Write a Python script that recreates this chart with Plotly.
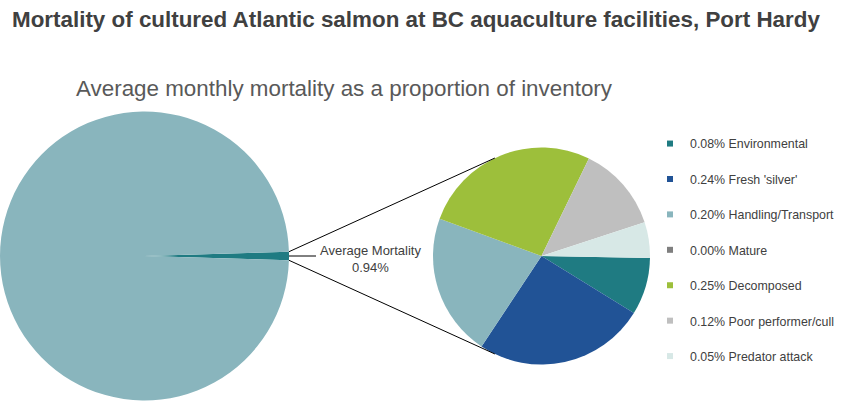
import math
import plotly.graph_objects as go

W, H = 849, 406
FONT = "Liberation Sans, Arial, sans-serif"

title_text = "Mortality of cultured Atlantic salmon at BC aquaculture facilities, Port Hardy"
subtitle_text = "Average monthly mortality as a proportion of inventory"

overview_labels = ["Average Mortality", "Surviving inventory"]
overview_values = [0.94, 99.06]
overview_colors = ["#1F7B82", "#89B5BD"]

cause_labels = ["Environmental", "Fresh 'silver'", "Handling/Transport", "Mature",
                "Decomposed", "Poor performer/cull", "Predator attack"]
cause_values = [0.08, 0.24, 0.20, 0.00, 0.25, 0.12, 0.05]
cause_colors = ["#1F7B82", "#215396", "#89B5BD", "#7F7F7F",
                "#9DBF3B", "#BFBFBF", "#D7E8E6"]

# pie geometry (pixels)
big_cx, big_cy, big_r = 144.5, 256, 144.5
sm_cx, sm_cy, sm_r = 541.5, 256, 108.5

def px_to_paper(x, y):
    return x / W, 1 - y / H

frac = overview_values[0] / sum(overview_values)
big_rot = 90 - frac * 360 / 2

fig = go.Figure()

fig.add_trace(go.Pie(
    labels=overview_labels, values=overview_values,
    marker=dict(colors=overview_colors, line=dict(width=0)),
    sort=False, direction="clockwise", rotation=big_rot,
    textinfo="none", hoverinfo="label+value", showlegend=False,
    domain=dict(x=[max(0, (big_cx - big_r) / W), (big_cx + big_r) / W],
                y=[1 - (big_cy + big_r) / H, 1 - (big_cy - big_r) / H]),
))

fig.add_trace(go.Pie(
    labels=cause_labels, values=cause_values,
    marker=dict(colors=cause_colors, line=dict(width=0)),
    sort=False, direction="clockwise", rotation=91,
    textinfo="none", hoverinfo="label+value", showlegend=False,
    domain=dict(x=[(sm_cx - sm_r) / W, (sm_cx + sm_r) / W],
                y=[1 - (sm_cy + sm_r) / H, 1 - (sm_cy - sm_r) / H]),
))

# legend entries
for i, (lab, val, col) in enumerate(zip(cause_labels, cause_values, cause_colors)):
    fig.add_trace(go.Scatter(
        x=[None], y=[None], mode="markers",
        marker=dict(symbol="square", size=6, color=col),
        name=f"{val:.2f}% {lab}", legendgroup=f"g{i}", showlegend=True,
        hoverinfo="skip",
    ))

# connector lines
shapes = []
a_up = math.radians(big_rot)
a_dn = math.radians(big_rot + frac * 360)
p_up = (big_cx + big_r * math.sin(a_up), big_cy - big_r * math.cos(a_up))
p_dn = (big_cx + big_r * math.sin(a_dn), big_cy - big_r * math.cos(a_dn))
d = sm_cx - (big_cx + big_r)
alpha = math.degrees(math.acos(sm_r / d))
t_up = math.radians(270 + alpha)
t_dn = math.radians(270 - alpha)
q_up = (sm_cx + sm_r * math.sin(t_up), sm_cy - sm_r * math.cos(t_up))
q_dn = (sm_cx + sm_r * math.sin(t_dn), sm_cy - sm_r * math.cos(t_dn))
for p, q in [(p_up, q_up), (p_dn, q_dn)]:
    x0, y0 = px_to_paper(*p)
    x1, y1 = px_to_paper(*q)
    shapes.append(dict(type="line", xref="paper", yref="paper",
                       x0=x0, y0=y0, x1=x1, y1=y1,
                       line=dict(color="#000000", width=1)))
# leader line for label
lx0, ly0 = px_to_paper(big_cx + big_r, big_cy)
lx1, ly1 = px_to_paper(316, big_cy)
shapes.append(dict(type="line", xref="paper", yref="paper",
                   x0=lx0, y0=ly0, x1=lx1, y1=ly1,
                   line=dict(color="#000000", width=1)))

annotations = [
    dict(text=f"<b>{title_text}</b>", x=10 / W, y=1 - 19 / H, xref="paper", yref="paper",
         xanchor="left", yanchor="middle", showarrow=False,
         font=dict(family=FONT, size=22.4, color="#404040")),
    dict(text=subtitle_text, x=74 / W, y=1 - 88.5 / H, xref="paper", yref="paper",
         xanchor="left", yanchor="middle", showarrow=False,
         font=dict(family=FONT, size=22.4, color="#595959")),
    dict(text=f"Average Mortality<br>{sum(cause_values):.2f}%",
         x=370.5 / W, y=1 - 259 / H, xref="paper", yref="paper",
         xanchor="center", yanchor="middle", showarrow=False,
         font=dict(family=FONT, size=13, color="#404040")),
]

fig.update_layout(
    width=W, height=H,
    margin=dict(l=0, r=0, t=0, b=0),
    paper_bgcolor="white", plot_bgcolor="white",
    xaxis=dict(visible=False), yaxis=dict(visible=False),
    shapes=shapes, annotations=annotations,
    legend=dict(x=650 / W, y=1 - 129 / H, xanchor="left", yanchor="top",
                font=dict(family=FONT, size=12.4, color="#404040"),
                tracegroupgap=16.3, itemwidth=30, bgcolor="rgba(0,0,0,0)"),
    font=dict(family=FONT),
)

fig.write_html("out.html", config={"displayModeBar": False},
               post_script="document.body.style.margin='0px';")
